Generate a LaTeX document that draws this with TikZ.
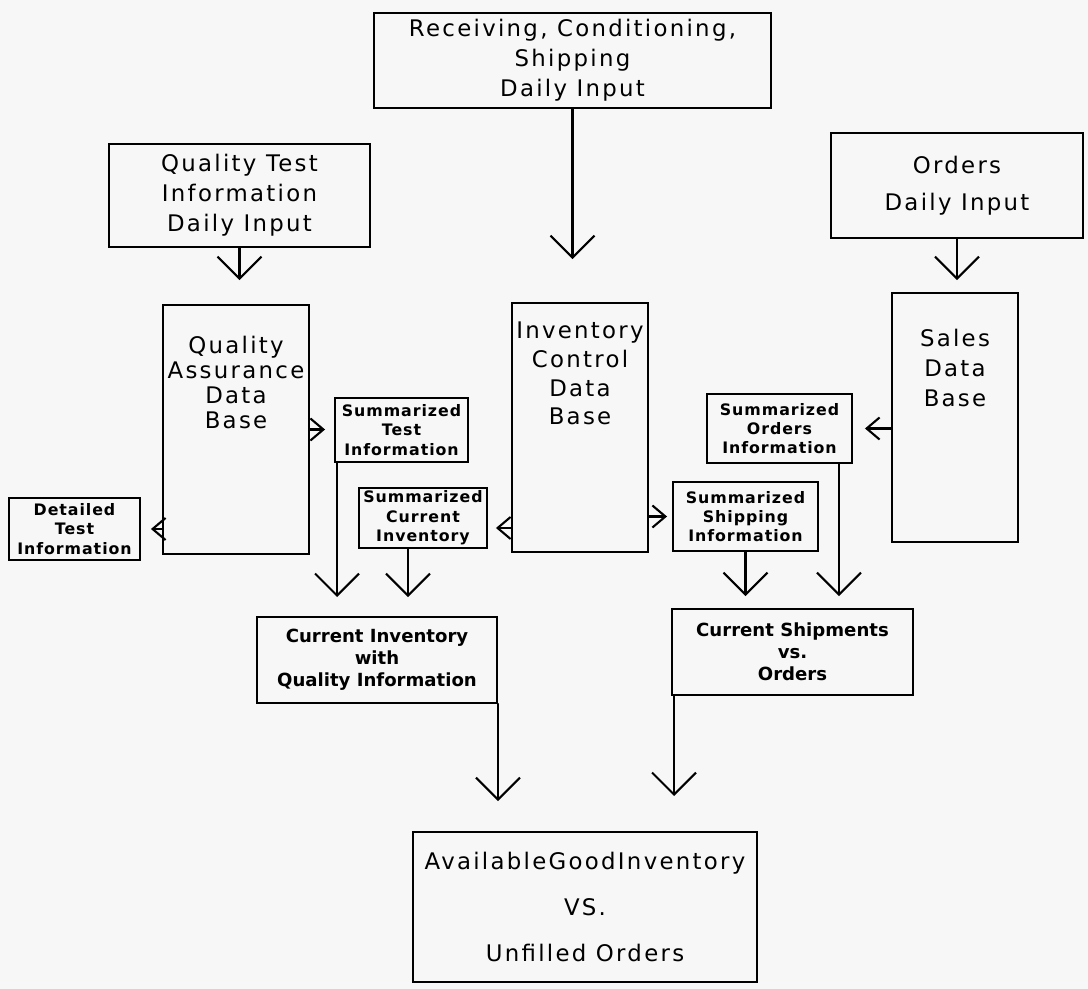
\documentclass[tikz,border=0pt]{standalone}
\usepackage{fontspec}
\setmainfont{DejaVu Sans}
\newfontfamily\chartfont[LetterSpace=10]{DejaVu Sans}
\newfontfamily\sumfont[LetterSpace=6]{DejaVu Sans}
\usetikzlibrary{arrows.meta,calc}
\newcommand{\bigfont}[1]{\chartfont\fontsize{13}{#1}\selectfont}
\colorlet{paper}{black!3}

\tikzset{
	box/.style={draw, line width=1.1pt, inner sep=0pt, align=center},
	bigtext/.style={font=\bigfont{#1}, align=center},
	bigtext/.default=17pt,
	sumtext/.style={font=\sumfont\bfseries\fontsize{9}{11}\selectfont},
	midtext/.style={font=\bfseries\fontsize{10.3}{12.5}\selectfont},
	bigarr/.style={line width=1.2pt, line cap=round, -{Straight Barb[length=0.44cm, width=0.88cm]}},
	smallarr/.style={line width=1.2pt, line cap=round, -{Straight Barb[length=0.26cm, width=0.44cm]}},
}

\begin{document}
\begin{tikzpicture}[x=0.02cm, y=-0.02cm]
		%%%%% START %%%%%
		
		\fill[paper] (0,0) rectangle (1088,989);
		
		% daily inputs
		\node[box, bigtext, minimum width=7.94cm, minimum height=1.9cm] (rcv) at (572.5,60.5) {Receiving, Conditioning,\\Shipping\\Daily Input};
		\node[box, bigtext, minimum width=5.22cm, minimum height=2.06cm] (qt) at (239.5,195.5) {Quality Test\\Information\\Daily Input};
		\node[box, bigtext=21pt, minimum width=5.04cm, minimum height=2.1cm] (ord) at (957,185.5) {Orders\\Daily Input};
		
		% data bases
		\node[box, minimum width=2.92cm, minimum height=4.98cm] (qa) at (236,429.5) {};
		\node[bigtext=14.2pt] (qatext) at (236,382.5) {Quality\\Assurance\\Data\\Base};
		\node[box, minimum width=2.72cm, minimum height=4.98cm] (inv) at (580,427.5) {};
		\node[bigtext=16.4pt] (invtext) at (580,373.5) {Inventory\\Control\\Data\\Base};
		\node[box, minimum width=2.52cm, minimum height=4.98cm] (sales) at (955,417.5) {};
		\node[bigtext] (salestext) at (955,368) {Sales\\Data\\Base};
		
		% summaries
		\node[box, sumtext, minimum width=2.66cm, minimum height=1.28cm] (sumtest) at (401.5,430) {Summarized\\Test\\Information};
		\node[box, sumtext, minimum width=2.62cm, minimum height=1.24cm] (det) at (74.5,529) {Detailed\\Test\\Information};
		\node[box, sumtext, minimum width=2.56cm, minimum height=1.2cm] (sumcur) at (423,518) {Summarized\\Current\\Inventory};
		\node[box, sumtext, minimum width=2.9cm, minimum height=1.38cm] (sumship) at (745.5,516.5) {Summarized\\Shipping\\Information};
		\node[box, sumtext, minimum width=2.9cm, minimum height=1.38cm] (sumord) at (779.5,428.5) {Summarized\\Orders\\Information};
		
		% reports
		\node[box, midtext, minimum width=4.8cm, minimum height=1.72cm] (ciqi) at (377,660) {Current Inventory\\with\\Quality Information};
		\node[box, midtext, minimum width=4.82cm, minimum height=1.72cm] (cso) at (792.5,652) {Current Shipments\\vs.\\Orders};
		\node[box, bigtext=26pt, minimum width=6.88cm, minimum height=3cm] (final) at (585,907) {AvailableGoodInventory\\VS.\\Unfilled Orders};
		
		% inputs into data bases
		\draw[bigarr, shorten >=0.86cm] (rcv.south) -- (rcv.south |- inv.north);
		\draw[bigarr, shorten >=0.48cm] (qt.south) -- (qt.south |- qa.north);
		\draw[bigarr, shorten >=0.24cm] (ord.south) -- (ord.south |- sales.north);
		
		% data bases to summaries
		\draw[smallarr, shorten >=0.18cm] (qa.east) -- (qa.east -| sumtest.west);
		\draw[smallarr, shorten >=0.2cm] (qa.west |- det.east) -- (det.east);
		\draw[smallarr, shorten >=0.16cm] ($(inv.west |- sumcur.east)+(0,10)$) -- ($(sumcur.east)+(0,10)$);
		\draw[smallarr, shorten >=0.1cm] (inv.east |- sumship.west) -- (sumship.west);
		\draw[smallarr, shorten >=0.24cm] (sales.west |- sumord.east) -- (sumord.east);
		
		% summaries to reports
		\draw[bigarr, shorten >=0.38cm] ($(sumtest.south west)+(3,0)$) -- ($(sumtest.south west |- ciqi.north)+(3,0)$);
		\draw[bigarr, shorten >=0.38cm] ($(sumcur.south)+(-15,0)$) -- ($(sumcur.south |- ciqi.north)+(-15,0)$);
		\draw[bigarr, shorten >=0.24cm] (sumship.south) -- (sumship.south |- cso.north);
		\draw[bigarr, shorten >=0.24cm] ($(sumord.south east)+(-14,0)$) -- ($(sumord.south east |- cso.north)+(-14,0)$);
		
		% reports to final
		\draw[bigarr, shorten >=0.6cm] (ciqi.south east) -- (ciqi.south east |- final.north);
		\draw[bigarr, shorten >=0.7cm] ($(cso.south west)+(3,0)$) -- ($(cso.south west |- final.north)+(3,0)$);
		
		%%%%% END %%%%%
\end{tikzpicture}
\end{document}
